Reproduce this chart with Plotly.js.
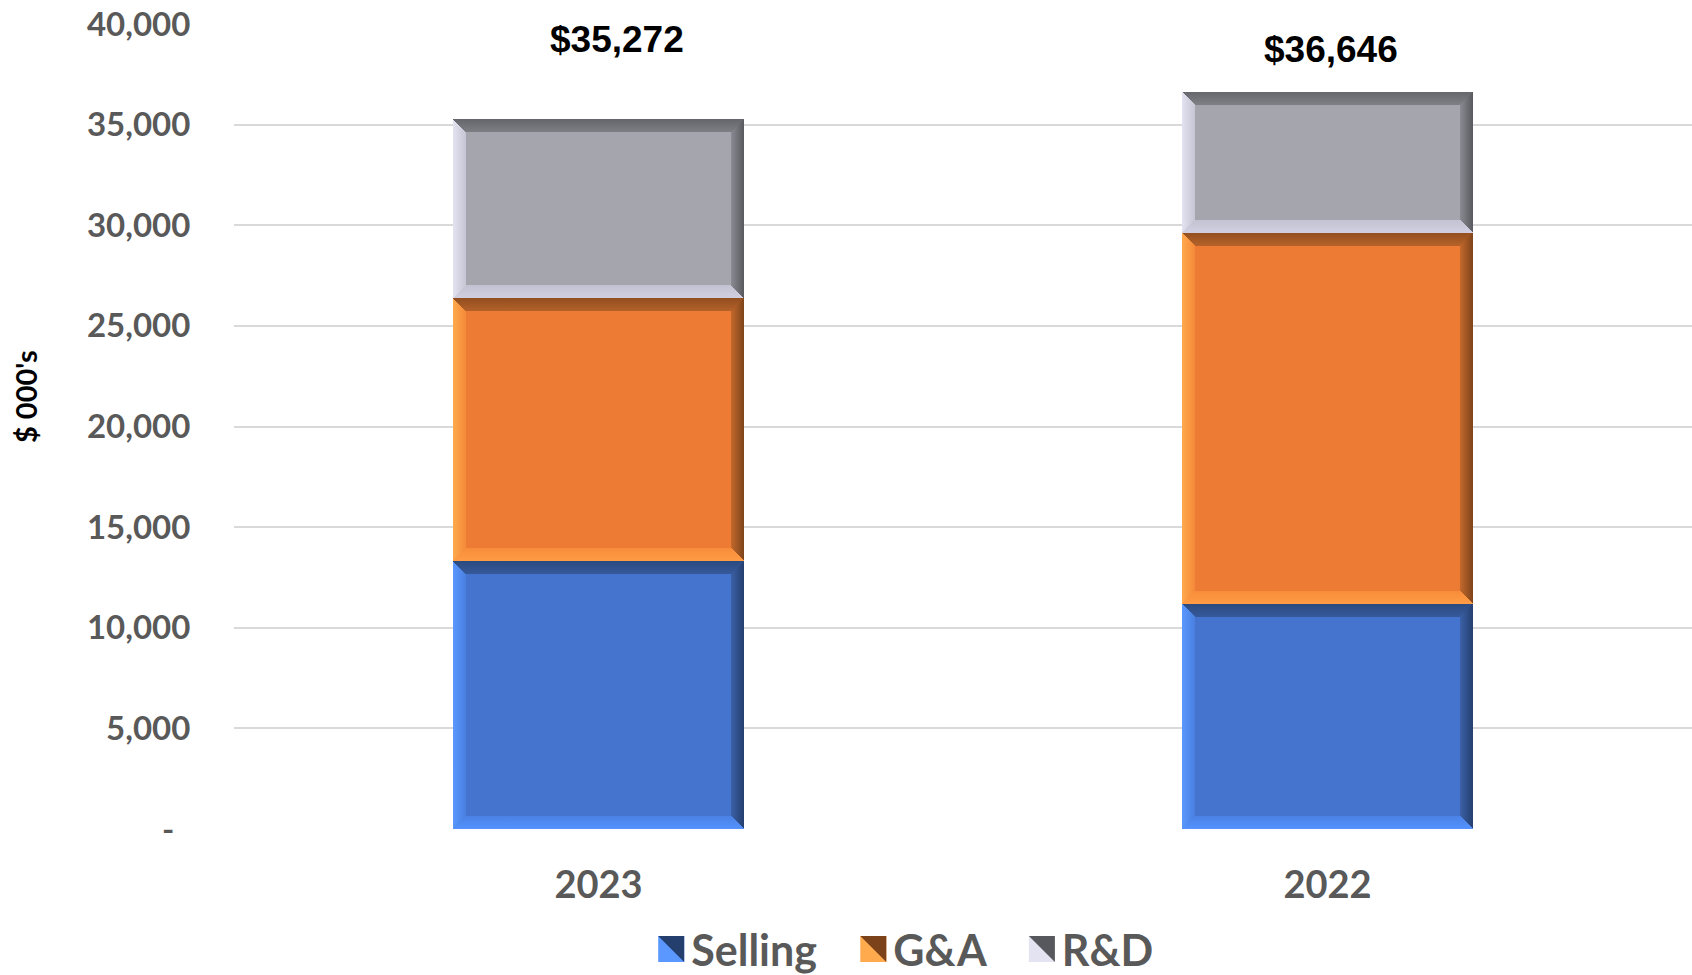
<!DOCTYPE html>
<html>
<head>
<meta charset="utf-8">
<script src="https://cdn.plot.ly/plotly-3.0.1.min.js"></script>
<style>
  html, body { margin: 0; padding: 0; background: #fff; }
  #chart { width: 1692px; height: 975px; }
</style>
</head>
<body>
<div id="chart"></div>
<script>
const years = ["2023", "2022"];
const seriesNames = ["Selling", "G&A", "R&D"];
const selling = [13320, 11200];
const gna = [13045, 18440];
const rnd = [8907, 7006];
const totals = [35272, 36646];
const tickVals = [0, 5000, 10000, 15000, 20000, 25000, 30000, 35000, 40000];
const tickText = ["-\u00a0\u00a0", "5,000", "10,000", "15,000", "20,000", "25,000", "30,000", "35,000", "40,000"];

const GREY_TXT = "#595959";
const PAD = "\u00a0\u00a0\u00a0";
const BEVEL = 13;

// edge / inner colours of the bevel bands, per series: top, right, bottom, left
const bevelColors = [
  { top: ["#2a4a80", "#36599a"], right: ["#243e6e", "#3b60a6"], bottom: ["#5592ff", "#4a82e4"], left: ["#5a98ff", "#4a80e0"] },
  { top: ["#924f1f", "#b5622a"], right: ["#7c431a", "#c2682c"], bottom: ["#ff9c44", "#f78c3a"], left: ["#ffaa4c", "#f58a3a"] },
  { top: ["#65666b", "#7e7f85"], right: ["#56585d", "#8a8b92"], bottom: ["#d0d0e2", "#c2c2d2"], left: ["#e3e3f1", "#c6c6d4"] }
];

function fmtTotal(v) {
  return "$" + v.toLocaleString("en-US");
}

function barTrace(name, values, color) {
  return {
    type: "bar",
    name: name + PAD,
    x: years,
    y: values,
    marker: { color: color, line: { width: 0 } },
    hoverinfo: "skip"
  };
}

const traces = [
  barTrace(seriesNames[0], selling, "#4474cd"),
  barTrace(seriesNames[1], gna, "#ed7b33"),
  barTrace(seriesNames[2], rnd, "#a4a5ad")
];

// total labels sit above each stack; offsets follow the hand-placed labels in the source
const labelShift = [[18, 80], [3, 42]];
const annotations = years.map((yr, i) => ({
  x: i,
  y: totals[i],
  xref: "x",
  yref: "y",
  text: fmtTotal(totals[i]),
  showarrow: false,
  xshift: labelShift[i][0],
  yshift: labelShift[i][1],
  font: { family: "'Liberation Sans', Arial, sans-serif", size: 37, color: "#000", weight: 700 }
}));

annotations.push({
  x: (25 - 234) / 1458,
  y: (829 - 397) / 805,
  xref: "paper",
  yref: "paper",
  xanchor: "center",
  yanchor: "middle",
  text: "$ 000's",
  showarrow: false,
  textangle: -90,
  font: { family: "Lato, sans-serif", size: 29, color: "#000", weight: 700 }
});

const layout = {
  width: 1692,
  height: 975,
  margin: { l: 234, r: 0, t: 24, b: 146, autoexpand: false },
  paper_bgcolor: "#fff",
  plot_bgcolor: "#fff",
  barmode: "stack",
  bargap: 0.6,
  showlegend: true,
  legend: {
    orientation: "h",
    x: 0.471,
    xanchor: "center",
    y: -0.149,
    yanchor: "middle",
    font: { family: "Lato, sans-serif", size: 43, color: GREY_TXT, weight: 700 },
    itemwidth: 30,
    traceorder: "normal"
  },
  xaxis: {
    type: "category",
    range: [-0.5, 1.5],
    showgrid: false,
    zeroline: false,
    showline: false,
    ticks: "outside",
    ticklen: 22,
    tickcolor: "rgba(0,0,0,0)",
    tickfont: { family: "Lato, sans-serif", size: 38, color: GREY_TXT, weight: 700 }
  },
  yaxis: {
    range: [0, 40000],
    tickvals: tickVals,
    ticktext: tickText,
    showgrid: true,
    gridcolor: "#d9d9d9",
    gridwidth: 2,
    zeroline: false,
    showline: false,
    ticks: "outside",
    ticklen: 36,
    tickcolor: "rgba(0,0,0,0)",
    tickfont: { family: "Lato, sans-serif", size: 33, color: GREY_TXT, weight: 700 }
  },
  annotations: annotations
};

const NS = "http://www.w3.org/2000/svg";

function makeGradient(defs, id, colors, dir) {
  const g = document.createElementNS(NS, "linearGradient");
  g.setAttribute("id", id);
  const d = { top: [0, 0, 0, 1], bottom: [0, 1, 0, 0], left: [0, 0, 1, 0], right: [1, 0, 0, 0] }[dir];
  g.setAttribute("x1", d[0]); g.setAttribute("y1", d[1]);
  g.setAttribute("x2", d[2]); g.setAttribute("y2", d[3]);
  colors.forEach((c, k) => {
    const s = document.createElementNS(NS, "stop");
    s.setAttribute("offset", k);
    s.setAttribute("stop-color", c);
    g.appendChild(s);
  });
  defs.appendChild(g);
}

// Excel-style bevel drawn over the bars plotly rendered
function addBevels(gd) {
  const svg = gd.querySelector(".main-svg");
  const defs = document.createElementNS(NS, "defs");
  svg.insertBefore(defs, svg.firstChild);

  gd.querySelectorAll(".barlayer .trace").forEach((tr, ti) => {
    const cols = bevelColors[ti];
    Object.keys(cols).forEach(side => makeGradient(defs, `bv-${ti}-${side}`, cols[side], side));

    tr.querySelectorAll(".point path").forEach(p => {
      const bb = p.getBBox();
      const x0 = bb.x, x1 = bb.x + bb.width, y0 = bb.y, y1 = bb.y + bb.height;
      const b = Math.min(BEVEL, bb.height / 2, bb.width / 2);
      const polys = {
        top: [[x0, y0], [x1, y0], [x1 - b, y0 + b], [x0 + b, y0 + b]],
        bottom: [[x0, y1], [x1, y1], [x1 - b, y1 - b], [x0 + b, y1 - b]],
        left: [[x0, y0], [x0 + b, y0 + b], [x0 + b, y1 - b], [x0, y1]],
        right: [[x1, y0], [x1 - b, y0 + b], [x1 - b, y1 - b], [x1, y1]]
      };
      ["top", "bottom", "left", "right"].forEach(side => {
        const poly = document.createElementNS(NS, "polygon");
        poly.setAttribute("points", polys[side].map(pt => pt.join(",")).join(" "));
        poly.setAttribute("fill", `url(#bv-${ti}-${side})`);
        p.parentNode.appendChild(poly);
      });
    });
  });
}

// big square keys, split on the diagonal like the bevelled Excel swatches
function styleLegend(gd) {
  gd.querySelectorAll(".legend .traces").forEach((tr, ti) => {
    const cols = bevelColors[ti];
    tr.querySelectorAll(".legendpoints path").forEach(p => {
      p.setAttribute("d", "M13,13H-13V-13H13Z");
      p.style.fill = cols.left[0];
      const tri = document.createElementNS(NS, "polygon");
      tri.setAttribute("points", "-13,-13 13,-13 13,13");
      tri.setAttribute("fill", cols.right[0]);
      const tf = p.getAttribute("transform");
      if (tf) tri.setAttribute("transform", tf);
      p.parentNode.appendChild(tri);
    });
  });
}

Plotly.newPlot("chart", traces, layout, { displayModeBar: false, staticPlot: true }).then(gd => {
  styleLegend(gd);
  addBevels(gd);
});
</script>
</body>
</html>
